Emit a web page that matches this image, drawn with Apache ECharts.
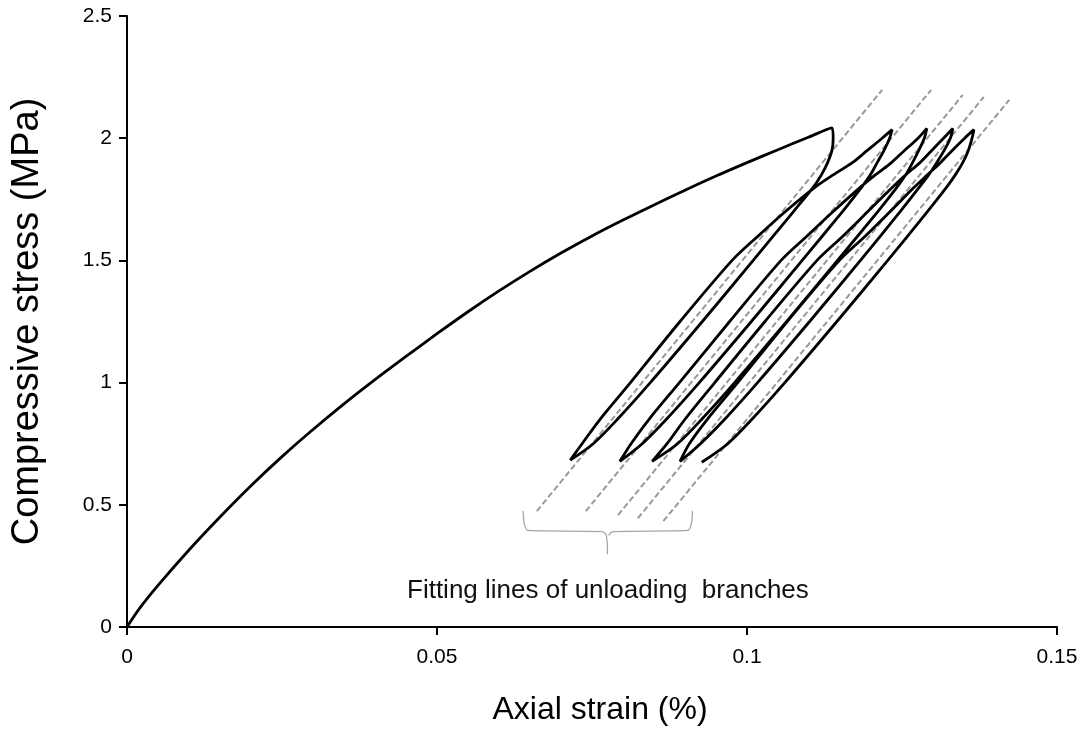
<!DOCTYPE html>
<html>
<head>
<meta charset="utf-8">
<script src="https://cdn.jsdelivr.net/npm/echarts@6/dist/echarts.min.js"></script>
<style>
  html, body { margin: 0; padding: 0; background: #fff; }
  #chart { width: 1089px; height: 731px; }
</style>
</head>
<body>
<div id="chart"></div>
<script>
// strain (%) , stress (MPa)
const envelope = [
  [0, 0], [0.002, 0.075], [0.005, 0.170], [0.010, 0.315], [0.015, 0.450],
  [0.020, 0.578], [0.025, 0.697], [0.030, 0.808], [0.035, 0.913], [0.040, 1.012],
  [0.045, 1.107], [0.050, 1.200], [0.055, 1.290], [0.060, 1.375], [0.065, 1.455],
  [0.070, 1.530], [0.075, 1.600], [0.080, 1.665], [0.085, 1.727], [0.090, 1.787],
  [0.095, 1.845], [0.100, 1.900], [0.105, 1.953], [0.110, 2.005], [0.1137, 2.042]
];
const unload1 = [[0.1139, 2.0], [0.1137, 1.95], [0.1130, 1.9], [0.1120, 1.85], [0.1107, 1.8], [0.1075, 1.7], [0.1010, 1.5], [0.0928, 1.25], [0.0844, 1.0], [0.0791, 0.85], [0.0752, 0.75], [0.0715, 0.683]];
const reload1 = [[0.0734, 0.75], [0.0763, 0.85], [0.0812, 1.0], [0.0892, 1.25], [0.0976, 1.5], [0.1018, 1.6], [0.1062, 1.7], [0.1110, 1.8], [0.1139, 1.85], [0.1170, 1.9], [0.1194, 1.95], [0.1218, 2.0], [0.1234, 2.035]];
const unload2 = [[0.1230, 2.0], [0.1221, 1.95], [0.1210, 1.9], [0.1199, 1.85], [0.1185, 1.8], [0.1154, 1.7], [0.1089, 1.5], [0.1007, 1.25], [0.0923, 1.0], [0.0870, 0.85], [0.0831, 0.75], [0.0795, 0.678]];
const reload2 = [[0.0813, 0.75], [0.0842, 0.85], [0.0891, 1.0], [0.0972, 1.25], [0.1055, 1.5], [0.1097, 1.6], [0.1139, 1.7], [0.1183, 1.8], [0.1207, 1.85], [0.1233, 1.9], [0.1254, 1.95], [0.1276, 2.0], [0.1290, 2.04]];
const unload3 = [[0.1286, 2.0], [0.1277, 1.95], [0.1267, 1.9], [0.1256, 1.85], [0.1242, 1.8], [0.1211, 1.7], [0.1146, 1.5], [0.1064, 1.25], [0.0980, 1.0], [0.0927, 0.85], [0.0888, 0.75], [0.0847, 0.678]];
const reload3 = [[0.0871, 0.75], [0.0900, 0.85], [0.0948, 1.0], [0.1029, 1.25], [0.1113, 1.5], [0.1155, 1.6], [0.1195, 1.7], [0.1235, 1.8], [0.1256, 1.85], [0.1279, 1.9], [0.1298, 1.95], [0.1317, 2.0], [0.1332, 2.04]];
const unload4 = [[0.1328, 2.0], [0.1318, 1.95], [0.1306, 1.9], [0.1293, 1.85], [0.1278, 1.8], [0.1247, 1.7], [0.1183, 1.5], [0.1101, 1.25], [0.1017, 1.0], [0.0964, 0.85], [0.0925, 0.75], [0.0892, 0.678]];
const reload4 = [[0.0907, 0.75], [0.0936, 0.85], [0.0985, 1.0], [0.1065, 1.25], [0.1149, 1.5], [0.1191, 1.6], [0.1231, 1.7], [0.1270, 1.8], [0.1291, 1.85], [0.1312, 1.9], [0.1331, 1.95], [0.1351, 2.0], [0.1366, 2.035]];
const unload5 = [[0.1363, 2.0], [0.1357, 1.95], [0.1348, 1.9], [0.1336, 1.85], [0.1322, 1.8], [0.1291, 1.7], [0.1227, 1.5], [0.1145, 1.25], [0.1061, 1.0], [0.1008, 0.85], [0.0969, 0.75], [0.0927, 0.674]];

// fitting lines of unloading branches (start, end)
const fitLines = [
  [[0.0661, 0.474], [0.1218, 2.198]],
  [[0.0740, 0.474], [0.1297, 2.198]],
  [[0.0792, 0.458], [0.1348, 2.177]],
  [[0.0824, 0.445], [0.1382, 2.169]],
  [[0.0865, 0.433], [0.1423, 2.157]]
];

// curly bracket under the fitting lines
const braceLeft = [[0.0639, 0.475], [0.0641, 0.42], [0.0647, 0.395], [0.0766, 0.390], [0.0773, 0.375], [0.0775, 0.298]];
const braceRight = [[0.0912, 0.475], [0.0910, 0.42], [0.0904, 0.395], [0.0784, 0.390], [0.0777, 0.375]];

const xTicks = [0, 0.05, 0.1, 0.15];
const yTicks = [0, 0.5, 1, 1.5, 2, 2.5];

const curve = envelope.concat(unload1, reload1, unload2, reload2, unload3, reload3, unload4, reload4, unload5);

const FONT = '"Liberation Sans", Arial, sans-serif';
const chart = echarts.init(document.getElementById('chart'));

const series = [];
fitLines.forEach(function (ln) {
  series.push({
    type: 'line', data: ln, symbol: 'none', silent: true,
    lineStyle: { color: '#999', width: 2, type: [6, 3] }
  });
});
[braceLeft, braceRight].forEach(function (b) {
  series.push({
    type: 'line', data: b, symbol: 'none', silent: true, smooth: 0.3,
    lineStyle: { color: '#a6a6a6', width: 1.3 }
  });
});
series.push({
  type: 'line', data: curve, symbol: 'none', smooth: 0.3,
  lineStyle: { color: '#000', width: 2.8 }, z: 5
});

chart.setOption({
  animation: false,
  backgroundColor: '#fff',
  grid: { left: 127, right: 32, top: 16, bottom: 103 },
  xAxis: {
    type: 'value', min: xTicks[0], max: xTicks[xTicks.length - 1], interval: 0.05,
    name: 'Axial strain (%)', nameLocation: 'middle', nameGap: 67,
    nameTextStyle: { fontFamily: FONT, fontSize: 32, color: '#000', padding: [0, 0, 0, 16] },
    axisLine: { lineStyle: { color: '#000', width: 2 } },
    axisTick: { length: 8, lineStyle: { color: '#000', width: 2 } },
    axisLabel: { fontFamily: FONT, fontSize: 21, color: '#000', margin: 20 },
    splitLine: { show: false }
  },
  yAxis: {
    type: 'value', min: yTicks[0], max: yTicks[yTicks.length - 1], interval: 0.5,
    name: 'Compressive stress (MPa)', nameLocation: 'middle', nameGap: 80, nameRotate: 90,
    nameTextStyle: { fontFamily: FONT, fontSize: 38, color: '#000' },
    axisLine: { lineStyle: { color: '#000', width: 2 } },
    axisTick: { length: 8, lineStyle: { color: '#000', width: 2 } },
    axisLabel: { fontFamily: FONT, fontSize: 21, color: '#000', margin: 15 },
    splitLine: { show: false }
  },
  graphic: [{
    type: 'text', left: 407, top: 578,
    style: { text: 'Fitting lines of unloading  branches', font: '26px ' + FONT, fill: '#111' }
  }],
  series: series
});
</script>
</body>
</html>
